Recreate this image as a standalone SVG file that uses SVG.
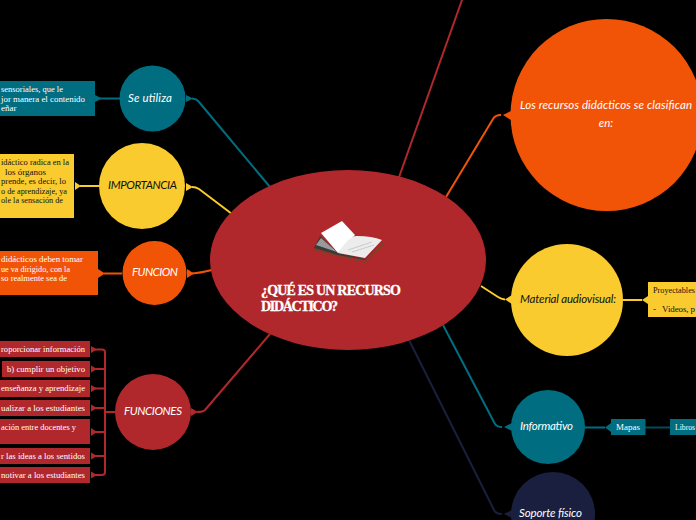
<svg xmlns="http://www.w3.org/2000/svg" width="696" height="520" viewBox="0 0 696 520">
<style>
.c{fill:none;stroke-width:2;stroke-linejoin:round}
.s{font:9px "Liberation Serif",serif;fill:#fff}
.d{font:9px "Liberation Serif",serif;fill:#111}
.h{font:italic 11.5px Lato,sans-serif;fill:#fff;text-anchor:middle}
.r{fill:#b0282c}.t{fill:#006d80}.y{fill:#f9cb2e}.o{fill:#f25407}.n{fill:#1a1f3f}
.sr{stroke:#b0282c}.st{stroke:#006d80}.sy{stroke:#f9cb2e}.so{stroke:#f25407}.sn{stroke:#1a1f3f}
</style>
<rect width="696" height="520" fill="#000"/>
<g id="connectors">
<path class="c sr" d="M398 180L462 0"/>
<path class="c st" d="M270 187L199 102Q197 99 192 98.500"/><path class="t" d="M186 95L193 98.500L186 102Z"/>
<path class="c sy" d="M232 214L199 189Q196 187 192 187"/><path class="y" d="M186 183L193 187L186 191Z"/>
<path class="c so" d="M212 270Q200 273 192 273.500"/><path class="o" d="M187 269L194 273.500L187 278Z"/>
<path class="c sr" d="M270 334L205 410Q203 412 197 412"/><path class="r" d="M191 408L198 412L191 416Z"/>
<path class="c st" d="M120 98.500H100"/><path class="t" d="M95 95L102 98.500L95 102Z"/>
<path class="c sy" d="M99 186H80"/><path class="y" d="M75 182L81 186L75 190Z"/>
<path class="c so" d="M122 273.500H104"/><path class="o" d="M98 269L105 273.500L98 278Z"/>
<path class="c sr" d="M115 412H105M91 349.500H102Q105 349.500 105 352V472Q105 475 102 475H91M91 369H105M91 388.500H105M91 408H105M91 432H105M91 456H105" stroke-width="1.500"/>
<path class="r" d="M91 346L97 349.500L91 353ZM91 365.500L97 369L91 372.500ZM91 385L97 388.500L91 392ZM91 404.500L97 408L91 411.500ZM91 428L97 432L91 436ZM91 452.500L97 456L91 459.500ZM91 471.500L97 475L91 478.500Z"/>
<path class="c so" d="M446 197L493 119Q495 115 501 115"/><path class="o" d="M511 111L503 115L511 120Z"/>
<path class="c sy" d="M481 286L498 297Q501 299 505 299.500"/><path class="y" d="M512 295L505 299.500L512 304Z"/>
<path class="c st" d="M443 325L495 424Q497 427 502 427"/><path class="t" d="M512 423L504 427L512 431Z"/>
<path class="c sn" d="M409 340L494 510Q496 514 502 514"/><path class="n" d="M512 510L504 514L512 518Z"/>
<path class="c sy" d="M623 300H642"/><path class="y" d="M648 296L642 300L648 304Z"/>
<path class="c st" d="M585 427.500H605"/><path class="t" d="M611 423L605 427.500L611 432Z"/>
<path class="c st" d="M645 427.500H670" stroke-width="1" style="stroke:#004b58"/>
</g>
<g id="central">
<ellipse class="r" cx="348" cy="260" rx="138" ry="90"/>
<g id="book">
<path fill="#6b4a20" d="M313 249L365 262L383 243L384 244L365 263L313 250Z"/>
<path fill="#3a3a3a" d="M314 248L320 236L338 253L365 259L382 241L365 260L338 255Z"/>
<path fill="#9a9a9a" d="M316 245L321 238L337 252Z"/>
<path fill="#fff" d="M321 233L342 221L355 235L338 253Z"/>
<path fill="#ececec" d="M338 253Q350 235 357 236Q372 236 382 240L365 258Z"/>
<path fill="none" stroke="#bbb" stroke-width=".7" d="M348 250L372 242M352 252L374 245"/>
</g>
<text font-family="Liberation Serif,serif" font-weight="700" font-size="14" fill="#fff" stroke="#fff" stroke-width=".3"><tspan x="261" y="295" textLength="140">¿QUÉ ES UN RECURSO</tspan><tspan x="261" y="311" textLength="77">DIDÁCTICO?</tspan></text>
</g>
<g id="se-utiliza">
<circle class="t" cx="152.500" cy="98.500" r="33"/><text class="h" x="150" y="102" textLength="44">Se utiliza</text>
<rect class="t" x="0" y="81" width="95" height="35"/>
<text class="s" x="1" y="92" textLength="62" lengthAdjust="spacingAndGlyphs">sensoriales, que le</text><text class="s" x="1" y="101.500" textLength="84" lengthAdjust="spacingAndGlyphs">jor manera el contenido</text><text class="s" x="1" y="111">eñar</text>
</g>
<g id="importancia">
<circle class="y" cx="142" cy="186" r="43"/><text class="h" x="142.500" y="189" style="fill:#111" textLength="69">IMPORTANCIA</text>
<rect class="y" x="0" y="154" width="74" height="64"/>
<text class="d" x="1" y="165" textLength="68" lengthAdjust="spacingAndGlyphs">idáctico radica en la</text><text class="d" x="5" y="175">los órganos</text><text class="d" x="1" y="184" textLength="65" lengthAdjust="spacingAndGlyphs">prende, es decir, lo</text><text class="d" x="1" y="194" textLength="66" lengthAdjust="spacingAndGlyphs">o de aprendizaje, ya</text><text class="d" x="1" y="203" textLength="62" lengthAdjust="spacingAndGlyphs">ole la sensación de</text>
</g>
<g id="funcion">
<circle class="o" cx="154.500" cy="273" r="32"/><text class="h" x="155" y="276" textLength="46">FUNCION</text>
<rect class="o" x="0" y="251" width="98" height="44"/>
<text class="s" x="1" y="262" textLength="82" lengthAdjust="spacingAndGlyphs">didácticos deben tomar</text><text class="s" x="1" y="271.500" textLength="69" lengthAdjust="spacingAndGlyphs">ue va dirigido, con la</text><text class="s" x="1" y="281" textLength="66" lengthAdjust="spacingAndGlyphs">so realmente sea de</text>
</g>
<g id="funciones">
<circle class="r" cx="153" cy="412" r="38"/><text class="h" x="153" y="415" textLength="58">FUNCIONES</text>
<rect class="r" x="0" y="341" width="90" height="16"/><text class="s" x="1" y="352" textLength="84" lengthAdjust="spacingAndGlyphs">roporcionar información</text>
<rect class="r" x="2" y="361" width="88" height="16"/><text class="s" x="7" y="371.500" textLength="78" lengthAdjust="spacingAndGlyphs">b) cumplir un objetivo</text>
<rect class="r" x="0" y="380" width="90" height="17"/><text class="s" x="1" y="391" textLength="84" lengthAdjust="spacingAndGlyphs">enseñanza y aprendizaje</text>
<rect class="r" x="0" y="400" width="90" height="16"/><text class="s" x="1" y="410.500" textLength="84" lengthAdjust="spacingAndGlyphs">ualizar a los estudiantes</text>
<rect class="r" x="0" y="419" width="90" height="25"/><text class="s" x="1" y="430" textLength="75" lengthAdjust="spacingAndGlyphs">ación entre docentes y</text>
<rect class="r" x="0" y="448" width="90" height="16"/><text class="s" x="1" y="459" textLength="84" lengthAdjust="spacingAndGlyphs">r las ideas a los sentidos</text>
<rect class="r" x="0" y="467" width="90" height="16"/><text class="s" x="1" y="478" textLength="84" lengthAdjust="spacingAndGlyphs">notivar a los estudiantes</text>
</g>
<g id="clasifican">
<circle class="o" cx="606.500" cy="115" r="96"/>
<text class="h" x="606" y="109" textLength="172">Los recursos didácticos se clasifican</text><text class="h" x="606" y="127">en:</text>
</g>
<g id="audiovisual">
<circle class="y" cx="567" cy="300" r="56"/><text class="h" x="568" y="303" style="fill:#111" textLength="96">Material audiovisual:</text>
<rect class="y" x="648" y="282" width="48" height="35"/>
<text class="d" x="653" y="293" textLength="42" lengthAdjust="spacingAndGlyphs">Proyectables</text><text class="d" x="653" y="312" textLength="42" xml:space="preserve">-   Videos, p</text>
</g>
<g id="informativo">
<circle class="t" cx="548" cy="427" r="37"/><text class="h" x="546.500" y="430" textLength="53">Informativo</text>
<rect class="t" x="611" y="419" width="34.500" height="16"/><text class="s" x="616" y="430">Mapas</text>
<rect class="t" x="670" y="419" width="26" height="16"/><text class="s" x="675" y="430" textLength="20" lengthAdjust="spacingAndGlyphs">Libros</text>
</g>
<g id="soporte">
<circle class="n" cx="553" cy="514" r="42"/><text class="h" x="550.500" y="517" textLength="63">Soporte físico</text>
</g>
</svg>
